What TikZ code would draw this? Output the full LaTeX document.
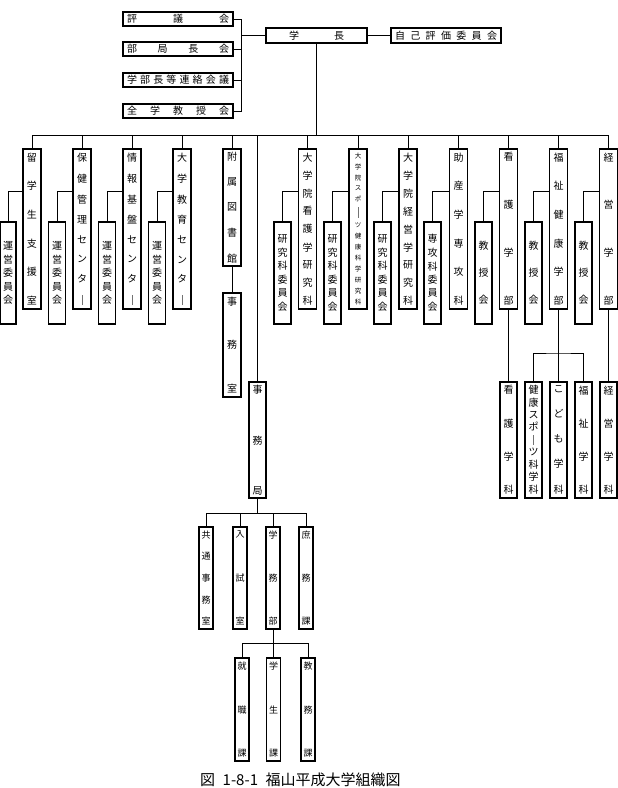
\documentclass[tikz,border=0pt]{standalone}
\usepackage{fontspec}
\newfontfamily\jp{Noto Sans CJK JP}
\newcommand\tate[2]{\vbox to #1pt{\offinterlineskip\foreach \tch [count=\ti] in {#2}{\ifnum\ti>1 \vfill\fi\hbox to 1em{\hss\tch\hss}}}}
\newcommand\yoko[2]{\hbox to #1pt{\foreach \tch [count=\ti] in {#2}{\ifnum\ti>1 \hfill\fi\tch}}}
\newcommand\chou[1]{{\color{black!55}\rule{0.5pt}{#1pt}}}
\tikzset{
  box/.style={draw, line width=1.1pt, inner sep=0pt, font=\jp\fontsize{10}{12}\selectfont},
  vb/.style 2 args={box, minimum width=#1pt, minimum height=#2pt},
  small/.style={font=\jp\fontsize{6.5}{8}\selectfont},
  mid/.style={font=\jp\fontsize{9}{11}\selectfont},
  conn/.style={line width=0.8pt}
}
\begin{document}
\begin{tikzpicture}[x=1pt,y=-1pt]
\fill[white] (0,0) rectangle (618,788);
\useasboundingbox (0,0) rectangle (618,788);
% top
\node[vb={110}{14}] (hyo) at (178,19) {\yoko{102}{評,議,会}};
\node[vb={110}{14}] (bukyoku) at (178,49) {\yoko{102}{部,局,長,会}};
\node[vb={110}{14}] (renraku) at (178,80) {\yoko{102}{学,部,長,等,連,絡,会,議}};
\node[vb={110}{14}] (zengaku) at (178,111) {\yoko{102}{全,学,教,授,会}};
\node[vb={101}{15}] (gakucho) at (316.5,35.5) {\yoko{55}{学,長}};
\node[vb={110}{15}] (jiko) at (446,35.5) {\yoko{102}{自,己,評,価,委,員,会}};
\coordinate (br) at (241,35.5);
\coordinate (bus) at (316.5,135);
\foreach \n in {hyo,bukyoku,renraku,zengaku}{\draw[conn] (\n.east) -| (br);}
\draw[conn] (br) -- (gakucho.west);
\draw[conn] (gakucho.east) -- (jiko.west);
\draw[conn] (gakucho.south) -- (bus);
% columns
\node[vb={18}{160}] (c1) at (32,229) {\tate{152}{留,学,生,支,援,室}};
\node[vb={18}{160}] (c2) at (82,229) {\tate{152}{保,健,管,理,セ,ン,タ,\chou{10}}};
\node[vb={18}{160}] (c3) at (132,229) {\tate{152}{情,報,基,盤,セ,ン,タ,\chou{10}}};
\node[vb={18}{160}] (c4) at (182,229) {\tate{152}{大,学,教,育,セ,ン,タ,\chou{10}}};
\node[vb={18}{117}] (lib) at (232,207.5) {\tate{110}{附,属,図,書,館}};
\node[vb={18}{104}] (jimushitsu) at (232,345) {\tate{96}{事,務,室}};
\node[vb={17}{116}] (jimukyoku) at (257.5,440) {\tate{110}{事,務,局}};
\node[vb={18}{160}] (g1) at (307.5,229) {\tate{152}{大,学,院,看,護,学,研,究,科}};
\node[vb={18}{160},small] (g2) at (358,229) {\tate{152}{大,学,院,ス,ポ,\chou{11},ツ,健,康,科,学,研,究,科}};
\node[vb={18}{160}] (g3) at (408,229) {\tate{152}{大,学,院,経,営,学,研,究,科}};
\node[vb={18}{160}] (josan) at (458.5,229) {\tate{152}{助,産,学,専,攻,科}};
\node[vb={18}{160}] (kangob) at (508.5,229) {\tate{152}{看,護,学,部}};
\node[vb={18}{160}] (fukushib) at (558.5,229) {\tate{152}{福,祉,健,康,学,部}};
\node[vb={18}{160}] (keieib) at (608.5,229) {\tate{152}{経,営,学,部}};
\foreach \n in {c1,c2,c3,c4,lib,jimukyoku,g1,g2,g3,josan,kangob,fukushib,keieib}{\draw[conn] (\n.north) |- (bus);}
\draw[conn] (lib.south) -- (jimushitsu.north);
% sub boxes
\node[vb={16}{102}] (s1) at (8,273) {\tate{62}{運,営,委,員,会}};
\node[vb={17}{102}] (s2) at (57,273) {\tate{62}{運,営,委,員,会}};
\node[vb={17}{102}] (s3) at (107,273) {\tate{62}{運,営,委,員,会}};
\node[vb={17}{102}] (s4) at (157,273) {\tate{62}{運,営,委,員,会}};
\node[vb={17}{102}] (k1) at (282.5,273) {\tate{76}{研,究,科,委,員,会}};
\node[vb={17}{102}] (k2) at (332.5,273) {\tate{76}{研,究,科,委,員,会}};
\node[vb={17}{102}] (k3) at (382.5,273) {\tate{76}{研,究,科,委,員,会}};
\node[vb={17}{102}] (sen) at (432.5,273) {\tate{76}{専,攻,科,委,員,会}};
\node[vb={17}{102}] (kj1) at (483.5,273) {\tate{62}{教,授,会}};
\node[vb={17}{102}] (kj2) at (533.5,273) {\tate{62}{教,授,会}};
\node[vb={17}{102}] (kj3) at (583.5,273) {\tate{62}{教,授,会}};
\draw[conn] (c1.north west) ++(0,43) -| (s1.north);
\draw[conn] (c2.north west) ++(0,43) -| (s2.north);
\draw[conn] (c3.north west) ++(0,43) -| (s3.north);
\draw[conn] (c4.north west) ++(0,43) -| (s4.north);
\draw[conn] (g1.north west) ++(0,43) -| (k1.north);
\draw[conn] (g2.north west) ++(0,43) -| (k2.north);
\draw[conn] (g3.north west) ++(0,43) -| (k3.north);
\draw[conn] (josan.north west) ++(0,43) -| (sen.north);
\draw[conn] (kangob.north west) ++(0,43) -| (kj1.north);
\draw[conn] (fukushib.north west) ++(0,43) -| (kj2.north);
\draw[conn] (keieib.north west) ++(0,43) -| (kj3.north);
% departments
\node[vb={17}{116}] (kangoka) at (508.5,440) {\tate{108}{看,護,学,科}};
\node[vb={17}{116}] (kenko) at (533.5,440) {\tate{108}{健,康,ス,ポ,\chou{10},ツ,科,学,科}};
\node[vb={17}{116}] (kodomo) at (558.5,440) {\tate{108}{こ,ど,も,学,科}};
\node[vb={17}{116}] (fukushika) at (583.5,440) {\tate{108}{福,祉,学,科}};
\node[vb={17}{116}] (keieika) at (608.5,440) {\tate{108}{経,営,学,科}};
\coordinate (fkj) at (558.5,353);
\draw[conn] (kangob.south) -- (kangoka.north);
\draw[conn] (keieib.south) -- (keieika.north);
\draw[conn] (fukushib.south) -- (kodomo.north);
\draw[conn] (kenko.north) |- (fkj) -| (fukushika.north);
% jimukyoku children
\node[vb={14}{102},mid] (kyotsu) at (206,578) {\tate{94}{共,通,事,務,室}};
\node[vb={14}{102},mid] (nyushi) at (240,578) {\tate{94}{入,試,室}};
\node[vb={14}{102},mid] (gakumu) at (273,578) {\tate{94}{学,務,部}};
\node[vb={14}{102},mid] (shomu) at (306,578) {\tate{94}{庶,務,課}};
\coordinate (jj) at (257.5,513);
\draw[conn] (jimukyoku.south) -- (jj);
\foreach \n in {kyotsu,nyushi,gakumu,shomu}{\draw[conn] (\n.north) |- (jj);}
\node[vb={14}{103},mid] (shushoku) at (242,709.5) {\tate{95}{就,職,課}};
\node[vb={14}{103},mid] (gakusei) at (273.5,709.5) {\tate{95}{学,生,課}};
\node[vb={14}{103},mid] (kyomu) at (308,709.5) {\tate{95}{教,務,課}};
\coordinate (gm) at (273,643);
\draw[conn] (gakumu.south) -- (gm);
\foreach \n in {shushoku,gakusei,kyomu}{\draw[conn] (\n.north) |- (gm);}
% caption
\node[anchor=south west, inner sep=0pt, font=\jp\fontsize{15}{17}\selectfont] (cap) at (200,787) {図\hspace{0.5em}1-8-1\hspace{0.5em}福山平成大学組織図};
\end{tikzpicture}
\end{document}
